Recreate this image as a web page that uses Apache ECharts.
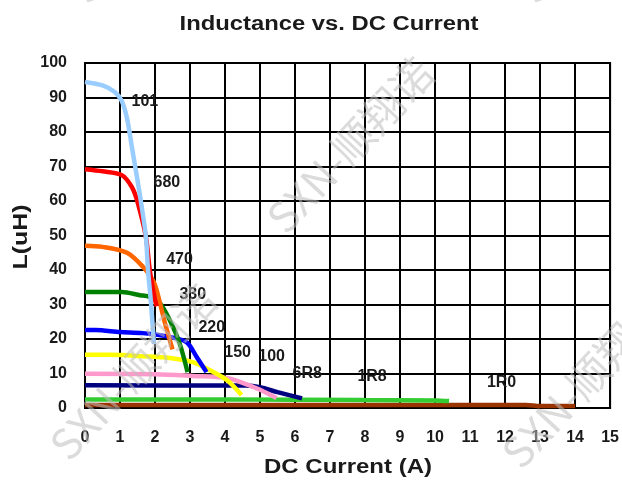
<!DOCTYPE html>
<html>
<head>
<meta charset="utf-8">
<script src="https://cdn.jsdelivr.net/npm/echarts@6/dist/echarts.min.js"></script>
<style>
  html, body { margin: 0; padding: 0; background: #fff; }
  #chart { width: 622px; height: 480px; }
</style>
</head>
<body>
<div id="chart"></div>
<script>
// inductance curves, [current A, inductance uH]
var curve101 = [[0,94.5],[0.5,93.5],[0.85,91.6],[1.05,89],[1.2,84],[1.35,75],[1.5,66],[1.61,59],[1.74,49.6],[1.8,40],[1.88,31],[1.97,18.5]];
var curve680 = [[0,69.2],[0.5,68.6],[1.05,67.5],[1.34,64],[1.51,59.4],[1.74,49.6],[1.85,40],[2.0,31.3],[2.05,29.5]];
var curve470 = [[0,47],[0.5,46.7],[1.2,45],[1.65,41],[1.94,37],[2.05,34],[2.3,24],[2.5,17]];
var curve330 = [[0,33.6],[1.05,33.6],[1.57,32.7],[1.85,32.2],[2.14,30.4],[2.42,25.5],[2.7,18.8],[2.93,10.4]];
var curve220 = [[0,22.6],[0.3,22.6],[1.0,22],[1.65,21.7],[2.42,20.6],[2.9,19.1],[3.19,14.8],[3.47,10.4]];
var curve150 = [[0,15.4],[0.7,15.4],[1.65,15],[2.42,14.5],[3.08,13.3],[3.56,11],[4.05,8.1],[4.47,3.8]];
var curve100 = [[0,9.9],[2,9.8],[3.08,9.3],[4.05,8.7],[4.5,7.3],[5.0,5.3],[5.47,2.9]];
var curve6R8 = [[0,6.6],[4,6.5],[4.6,6.5],[5.0,6.0],[5.5,4.6],[6.2,2.8]];
var curve1R8 = [[0,2.5],[4,2.5],[8,2.3],[10,2.2],[10.4,2.0]];
var curve1R0 = [[0,0.9],[12.6,0.9],[13,0.6],[14,0.6]];

// part number tags placed in the plot
var tagPoints = [[1.71,88.7,'101'],[2.34,65.2,'680'],[2.7,42.9,'470'],[3.08,32.8,'330'],[3.62,23.2,'220'],[4.36,16.2,'150'],[5.33,15,'100'],[6.35,10.1,'6R8'],[8.2,9,'1R8'],[11.9,7.5,'1R0']];

var xMin = 0, xMax = 15, xStep = 1;
var yMin = 0, yMax = 100, yStep = 10;

// drawn bottom-up so the big parts sit on top
var seriesList = [
    {name:'1R0', data:curve1R0, color:'#993300'},
    {name:'1R8', data:curve1R8, color:'#33CC33'},
    {name:'6R8', data:curve6R8, color:'#000080'},
    {name:'100', data:curve100, color:'#FF99CC'},
    {name:'150', data:curve150, color:'#FFFF00'},
    {name:'220', data:curve220, color:'#0000FF'},
    {name:'330', data:curve330, color:'#008000'},
    {name:'470', data:curve470, color:'#FF6600'},
    {name:'680', data:curve680, color:'#FF0000'},
    {name:'101', data:curve101, color:'#99CCFF'}
];

var font = 'Liberation Sans, Arial, sans-serif';
var wmFont = 'Noto Sans CJK SC, sans-serif';
var ink = '#1a1a1a';

var series = [];
for (var i in seriesList) {
    var s = seriesList[i];
    series.push({
        name: s.name,
        type: 'line',
        data: s.data,
        smooth: 0.3,
        showSymbol: false,
        lineStyle: { color: s.color, width: 4.5 },
        itemStyle: { color: s.color },
        z: 3
    });
}
series.push({
    type: 'scatter',
    data: tagPoints,
    symbolSize: 0,
    silent: true,
    z: 5,
    itemStyle: { opacity: 1 },
    label: {
        show: true,
        position: 'inside',
        formatter: function (p) { return p.value[2]; },
        color: ink,
        fontSize: 16,
        fontWeight: 'bold',
        fontFamily: font
    }
});

// SXN watermarks
function mark(x, y) {
    return {
        type: 'text',
        x: x, y: y,
        rotation: 0.82,
        z: 100,
        silent: true,
        style: {
            text: 'SXN-顺翔诺',
            font: '42px ' + wmFont,
            fill: 'rgba(190,190,190,0.55)',
            align: 'center',
            verticalAlign: 'middle'
        }
    };
}

// stretched caption text (the source uses a wide face)
function caption(str, x, y, size, sx, rot) {
    return {
        type: 'text',
        x: x, y: y,
        rotation: rot || 0,
        scaleX: sx,
        z: 50,
        silent: true,
        style: {
            text: str,
            font: 'bold ' + size + 'px ' + font,
            fill: ink,
            align: 'center',
            verticalAlign: 'middle'
        }
    };
}

var chart = echarts.init(document.getElementById('chart'));
chart.setOption({
    animation: false,
    backgroundColor: '#fff',
    grid: { left: 85, right: 10, top: 63, bottom: 72, show: true, borderColor: '#000', borderWidth: 2 },
    xAxis: {
        type: 'value',
        min: xMin, max: xMax, interval: xStep,
        axisLine: { lineStyle: { color: '#000', width: 2 } },
        axisTick: { show: false },
        axisLabel: { margin: 22, fontSize: 16, fontWeight: 'bold', color: ink, fontFamily: font },
        splitLine: { lineStyle: { color: '#000', width: 2 } }
    },
    yAxis: {
        type: 'value',
        min: yMin, max: yMax, interval: yStep,
        axisLine: { show: true, lineStyle: { color: '#000', width: 2 } },
        axisTick: { show: false },
        axisLabel: { margin: 18, fontSize: 16, fontWeight: 'bold', color: ink, fontFamily: font },
        splitLine: { lineStyle: { color: '#000', width: 2 } }
    },
    graphic: [
        caption('Inductance vs. DC Current', 329, 24, 20, 1.19),
        caption('DC Current (A)', 348, 467, 20, 1.2),
        caption('L(uH)', 21, 237, 20, 1.25, Math.PI / 2),
        mark(350, 145),
        mark(133, 372),
        mark(585, 380),
        mark(152, -85),
        mark(600, -85)
    ],
    series: series
});
</script>
</body>
</html>
